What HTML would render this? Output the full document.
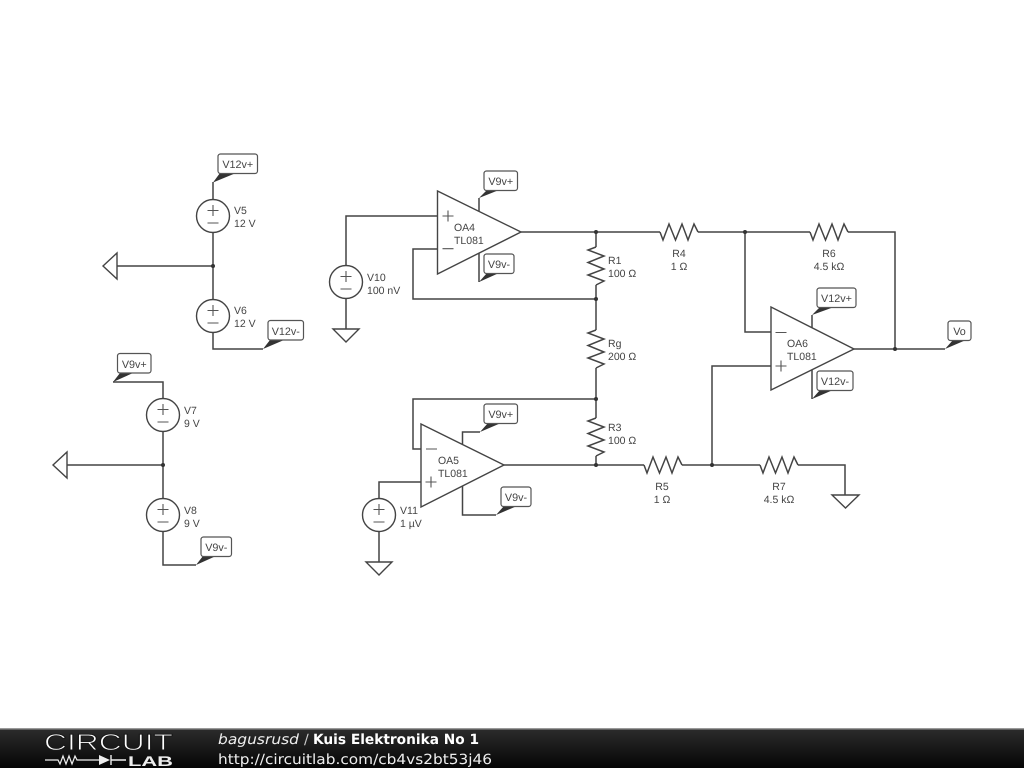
<!DOCTYPE html>
<html>
<head>
<meta charset="utf-8">
<style>
html,body{margin:0;padding:0;background:#fff;width:1024px;height:768px;overflow:hidden}
svg{display:block;text-rendering:geometricPrecision}
#d{filter:blur(0.35px)}
.w{fill:none;stroke:#444;stroke-width:1.5}
.g{fill:#fff;stroke:#444;stroke-width:1.4}
.j{fill:#333}
.t{font-family:"Liberation Sans",sans-serif;font-size:10.5px;fill:#444}
.m{text-anchor:middle;font-size:10.8px}
.b{fill:#fff;stroke:#555;stroke-width:1.2}
.p{fill:#333}
.s{fill:none;stroke:#555;stroke-width:1.1}
</style>
</head>
<body>
<svg width="1024" height="768" viewBox="0 0 1024 768" xmlns="http://www.w3.org/2000/svg">
<defs>
<linearGradient id="f" x1="0" y1="0" x2="0" y2="1"><stop offset="0" stop-color="#2c2c2c"/><stop offset="1" stop-color="#050505"/></linearGradient>
<g id="src"><circle r="16.5" class="g"/><path class="s" d="M-5.5,-5.500H5.500M0,-11V0M-5.500,7H5.500"/></g>
<polyline id="rh" class="w" points="0,0 3,8 9,-8 15.500,8 22,-8 28,8 34,-8 38,0"/>
<polyline id="rv" class="w" points="0,0 -8,3 8,9 -8,15.500 8,22 -8,28 8,34 0,38"/>
</defs>
<rect width="1024" height="768" fill="#fff"/>
<g id="d">
<!-- wires -->
<path class="w" d="M213,182V199M213,233V299M213,332V349H263M117,266H213"/>
<path class="w" d="M113,382H163V398M163,432V498M163,532V565H196M67,465H163"/>
<path class="w" d="M346,265V216H437M346,299V329"/>
<path class="w" d="M437,249H413V299H596M521,232H660M698,232H810M848,232H895V349M596,232V247M596,285V330M596,368V418M596,456V465"/>
<path class="w" d="M421,449H413V399H596M504,465H644M682,465H760M798,465H845V495M712,465V366H771M745,232V332H771"/>
<path class="w" d="M421,482H379V498M379,532V562"/>
<path class="w" d="M854,349H945"/>
<path class="w" d="M479,211V198M479,253V282M462.500,444V432H480M462.500,486V515H496M812,328V315M812,370V399"/>

<!-- resistors -->
<use href="#rv" x="596" y="247"/>
<use href="#rv" x="596" y="330"/>
<use href="#rv" x="596" y="418"/>
<use href="#rh" x="660" y="232"/>
<use href="#rh" x="810" y="232"/>
<use href="#rh" x="644" y="465"/>
<use href="#rh" x="760" y="465"/>

<!-- sources -->
<use href="#src" x="213" y="216"/>
<use href="#src" x="213" y="316"/>
<use href="#src" x="163" y="415"/>
<use href="#src" x="163" y="515"/>
<use href="#src" x="346" y="282"/>
<use href="#src" x="379" y="515"/>

<!-- grounds -->
<polygon class="g" points="117,253 117,279 103,266"/>
<polygon class="g" points="67,452 67,478 53,465"/>
<polygon class="g" points="333,329 359,329 346,342"/>
<polygon class="g" points="366,562 392,562 379,575"/>
<polygon class="g" points="832,495 859,495 845.500,508"/>

<!-- op amps -->
<polygon class="g" points="437.500,191 437.500,274 521,232"/>
<polygon class="g" points="421,424 421,507 504,465"/>
<polygon class="g" points="771,307 771,390 854,349"/>
<path class="s" d="M442.500,216H453.500M448,210.500V221.500M442.500,248.700H453.500"/>
<path class="s" d="M426,449H437M425.500,482H436.500M431,476.500V487.500"/>
<path class="s" d="M775.500,332.500H786.500M775.500,366H786.500M781,360.500V371.500"/>

<!-- tag pointers -->
<polygon class="p" points="213,182.500 220,173 236,173"/>
<polygon class="p" points="263,349 270,340 284,340"/>
<polygon class="p" points="113,382 120,373 133,373"/>
<polygon class="p" points="196,565 203,556 216,556"/>
<polygon class="p" points="479,198 487,190 499,190"/>
<polygon class="p" points="479,282 487,273 499,273"/>
<polygon class="p" points="480,432 488,423 501,423"/>
<polygon class="p" points="496,515 504,506 517,506"/>
<polygon class="p" points="812,315 820,307 834,307"/>
<polygon class="p" points="812,399 820,390 833,390"/>
<polygon class="p" points="945,349 953,340 966,340"/>

<!-- tag boxes -->
<rect class="b" x="218" y="154" width="39.500" height="19.500" rx="2.500"/>
<rect class="b" x="268" y="320.500" width="35.500" height="19.500" rx="2.500"/>
<rect class="b" x="117.500" y="353.500" width="33.500" height="19.500" rx="2.500"/>
<rect class="b" x="201" y="537" width="30.500" height="19.500" rx="2.500"/>
<rect class="b" x="484" y="171" width="33.500" height="19.500" rx="2.500"/>
<rect class="b" x="484" y="254" width="30" height="19.500" rx="2.500"/>
<rect class="b" x="484" y="404" width="33.500" height="19.500" rx="2.500"/>
<rect class="b" x="501" y="487" width="30" height="19.500" rx="2.500"/>
<rect class="b" x="817" y="288" width="39" height="19.500" rx="2.500"/>
<rect class="b" x="817" y="371" width="36" height="19.500" rx="2.500"/>
<rect class="b" x="948" y="321" width="23" height="19.500" rx="2.500"/>

<text class="t m" x="237.800" y="168">V12v+</text>
<text class="t m" x="285.800" y="335">V12v-</text>
<text class="t m" x="134.300" y="368">V9v+</text>
<text class="t m" x="216.300" y="551">V9v-</text>
<text class="t m" x="500.800" y="185">V9v+</text>
<text class="t m" x="499" y="268">V9v-</text>
<text class="t m" x="500.800" y="418">V9v+</text>
<text class="t m" x="516" y="501">V9v-</text>
<text class="t m" x="836.500" y="302">V12v+</text>
<text class="t m" x="835" y="385">V12v-</text>
<text class="t m" x="959.500" y="335">Vo</text>

<!-- junctions -->
<g class="j">
<circle cx="213" cy="266" r="2"/><circle cx="163" cy="465" r="2"/>
<circle cx="596" cy="232" r="2"/><circle cx="596" cy="299" r="2"/>
<circle cx="596" cy="399" r="2"/><circle cx="596" cy="465" r="2"/>
<circle cx="712" cy="465" r="2"/><circle cx="745" cy="232" r="2"/>
<circle cx="895" cy="349" r="2"/>
</g>

<!-- labels -->
<text class="t" x="234" y="214">V5</text><text class="t" x="234" y="227">12 V</text>
<text class="t" x="234" y="314">V6</text><text class="t" x="234" y="327">12 V</text>
<text class="t" x="184" y="414">V7</text><text class="t" x="184" y="427">9 V</text>
<text class="t" x="184" y="514">V8</text><text class="t" x="184" y="527">9 V</text>
<text class="t" x="367" y="281">V10</text><text class="t" x="367" y="294">100 nV</text>
<text class="t" x="400" y="514">V11</text><text class="t" x="400" y="527">1 µV</text>
<text class="t" x="454" y="231">OA4</text><text class="t" x="454" y="244">TL081</text>
<text class="t" x="438" y="464">OA5</text><text class="t" x="438" y="477">TL081</text>
<text class="t" x="787" y="347">OA6</text><text class="t" x="787" y="360">TL081</text>
<text class="t" x="608" y="264">R1</text><text class="t" x="608" y="277">100 Ω</text>
<text class="t" x="608" y="347">Rg</text><text class="t" x="608" y="360">200 Ω</text>
<text class="t" x="608" y="431">R3</text><text class="t" x="608" y="444">100 Ω</text>
<text class="t" x="679" y="257" text-anchor="middle">R4</text><text class="t" x="679" y="270" text-anchor="middle">1 Ω</text>
<text class="t" x="829" y="257" text-anchor="middle">R6</text><text class="t" x="829" y="270" text-anchor="middle">4.5 kΩ</text>
<text class="t" x="662" y="490" text-anchor="middle">R5</text><text class="t" x="662" y="503" text-anchor="middle">1 Ω</text>
<text class="t" x="779" y="490" text-anchor="middle">R7</text><text class="t" x="779" y="503" text-anchor="middle">4.5 kΩ</text>
</g>

<!-- footer -->
<rect x="0" y="729" width="1024" height="39" fill="url(#f)"/>
<rect x="0" y="728" width="1024" height="1.500" fill="#999"/>
<text x="44" y="750" font-family="'Liberation Sans',sans-serif" font-size="23" fill="#fff" stroke="#181818" stroke-width="0.9" textLength="129" lengthAdjust="spacingAndGlyphs">CIRCUIT</text>
<polyline fill="none" stroke="#eee" stroke-width="1.200" points="45,760 58,760 60,764 63,756 66,764 69,756 72,764 75,756 77,760 99,760"/>
<polygon fill="#eee" points="99,755 99,765 110,760"/>
<path fill="none" stroke="#eee" stroke-width="1.400" d="M111,755V765M111,760H126"/>
<text x="128" y="766" font-family="'Liberation Sans',sans-serif" font-weight="bold" font-size="14" fill="#eee" textLength="45" lengthAdjust="spacingAndGlyphs">LAB</text>
<text x="218" y="744" font-family="'DejaVu Sans',sans-serif" font-style="italic" font-size="14" fill="#eee" textLength="81" lengthAdjust="spacingAndGlyphs">bagusrusd</text>
<text x="304" y="744" font-family="'DejaVu Sans',sans-serif" font-size="14" fill="#ccc">/</text>
<text x="313" y="744" font-family="'DejaVu Sans',sans-serif" font-weight="bold" font-size="14" fill="#fff" textLength="166" lengthAdjust="spacingAndGlyphs">Kuis Elektronika No 1</text>
<text x="218" y="764" font-family="'DejaVu Sans',sans-serif" font-size="14" fill="#eee" textLength="274" lengthAdjust="spacingAndGlyphs">http://circuitlab.com/cb4vs2bt53j46</text>
</svg>
</body>
</html>
